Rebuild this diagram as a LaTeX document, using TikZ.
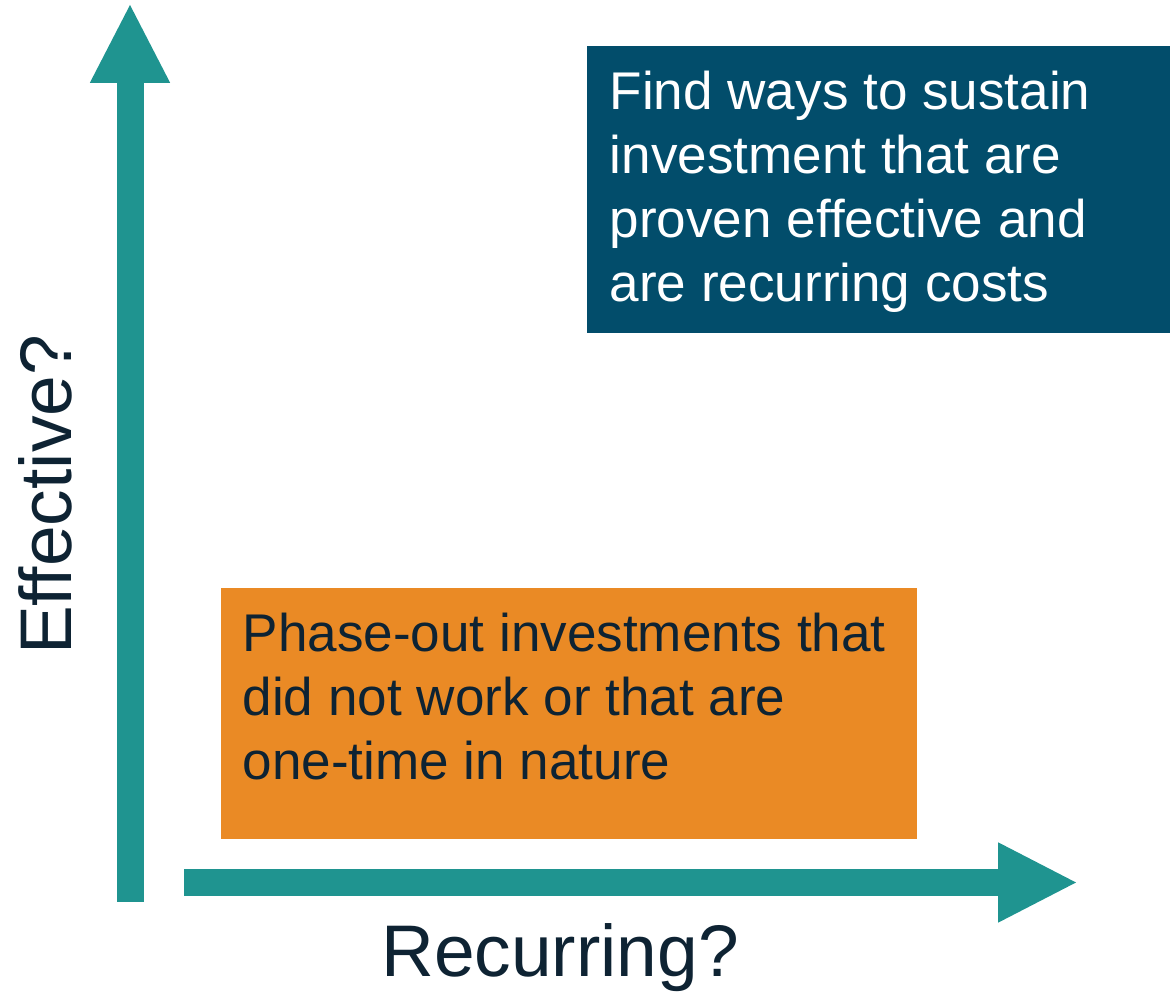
\documentclass[tikz,border=0pt]{standalone}
\usepackage{fontspec}
\setmainfont{Liberation Sans}
\usetikzlibrary{arrows.meta, positioning, calc}

\definecolor{axisteal}{HTML}{1F9490}
\definecolor{sustainblue}{HTML}{024D6B}
\definecolor{phaseorange}{HTML}{EA8A25}
\definecolor{inkdark}{HTML}{0E2333}

\tikzset{
  axisline/.style={line width=0.27cm, draw=axisteal, -{Triangle[width=0.74cm, length=0.8cm]}},
  quadbox/.style={anchor=north west, inner sep=0pt, outer sep=0pt},
  quadtext/.style={anchor=north west, inner sep=0pt, align=left, font=\fontsize{15.1}{18.2}\selectfont},
  axislabel/.style={text=inkdark, inner sep=0pt, font=\fontsize{20.8}{24}\selectfont},
}

\begin{document}
\begin{tikzpicture}
\useasboundingbox (0,0) rectangle (11.7,10);

%% axes
\coordinate (yfoot) at (1.30, 0.98);
\coordinate (ytip) at (1.30, 9.97);
\coordinate (xfoot) at (1.84, 1.175);
\coordinate (xtip) at (10.78, 1.175);
\draw[axisline] (yfoot) -- (ytip);
\draw[axisline] (xfoot) -- (xtip);

\node[axislabel, rotate=90] (effective) at (0.45, 5.05) {Effective?};
\node[axislabel] (recurring) at (5.60, 0.42) {Recurring?};

%% top right quadrant
\node[quadbox, fill=sustainblue, minimum width=5.83cm, minimum height=2.87cm] (sustain) at (5.87, 9.54) {};
\node[quadtext, text=white] (sustaintext) at ($(sustain.north west) + (0.22, -0.24)$)
  {Find ways to sustain\\investment that are\\proven effective and\\are recurring costs};

%% bottom left quadrant
\node[quadbox, fill=phaseorange, minimum width=6.96cm, minimum height=2.51cm] (phase) at (2.21, 4.12) {};
\node[quadtext, text=inkdark] (phasetext) at ($(phase.north west) + (0.21, -0.24)$)
  {Phase-out investments that\\did not work or that are\\one-time in nature};

\end{tikzpicture}
\end{document}
